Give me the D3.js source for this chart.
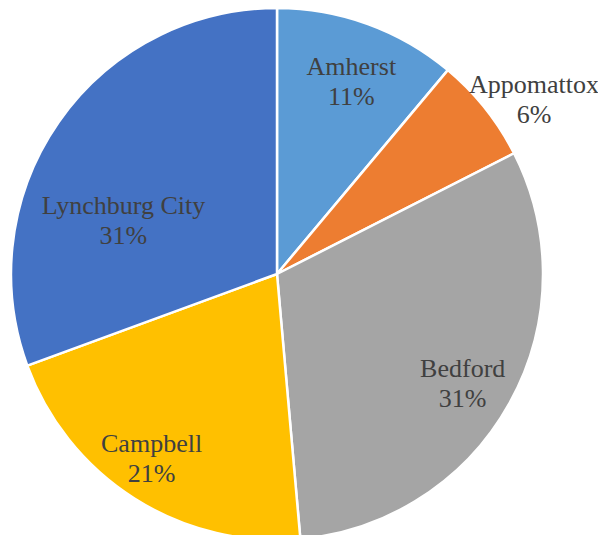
<!DOCTYPE html>
<html><head><meta charset="utf-8">
<script src="https://cdn.jsdelivr.net/npm/d3@7"></script>
</head><body style="margin:0">
<svg id="chart" width="598" height="535" style="display:block"></svg>
<script>
const categories = ["Amherst", "Appomattox", "Bedford", "Campbell", "Lynchburg City"];
const values = [11.1, 6.4, 31.1, 20.8, 30.6];
const percentLabels = ["11%", "6%", "31%", "21%", "31%"];
const colors = ["#5B9BD5", "#ED7D31", "#A5A5A5", "#FFC000", "#4472C4"];
// label anchor: [angle in degrees clockwise from top, radius fraction]
const labelAnchors = [[20.5, 0.798], [54.9, 1.181], [119.1, 0.799], [215.1, 0.82], [291.4, 0.62]];

const cx = 277, cy = 274, R = 266;
const svg = d3.select("#chart");
const g = svg.append("g").attr("transform", `translate(${cx},${cy})`);
const data = categories.map((c, i) => ({ name: c, value: values[i], i }));
const pie = d3.pie().value(d => d.value).sort(null);
const arc = d3.arc().innerRadius(0).outerRadius(R);
const arcs = pie(data);
g.selectAll("path").data(arcs).join("path")
  .attr("d", arc)
  .attr("fill", d => colors[d.data.i])
  .attr("stroke", "#fff").attr("stroke-width", 2.5).attr("stroke-linejoin", "round");

const lines = [];
arcs.forEach(d => {
  const [a, f] = labelAnchors[d.data.i];
  const t = a * Math.PI / 180;
  const x = cx + Math.sin(t) * R * f, y = cy - Math.cos(t) * R * f;
  lines.push({ s: d.data.name, x, y });
  lines.push({ s: percentLabels[d.data.i], x, y: y + 30 });
});
svg.selectAll("text").data(lines).join("text")
  .attr("x", d => d.x).attr("y", d => d.y)
  .attr("text-anchor", "middle")
  .attr("fill", "#404040")
  .style("font-family", '"Liberation Serif"').style("font-size", "26px")
  .text(d => d.s);
</script>
</body></html>
